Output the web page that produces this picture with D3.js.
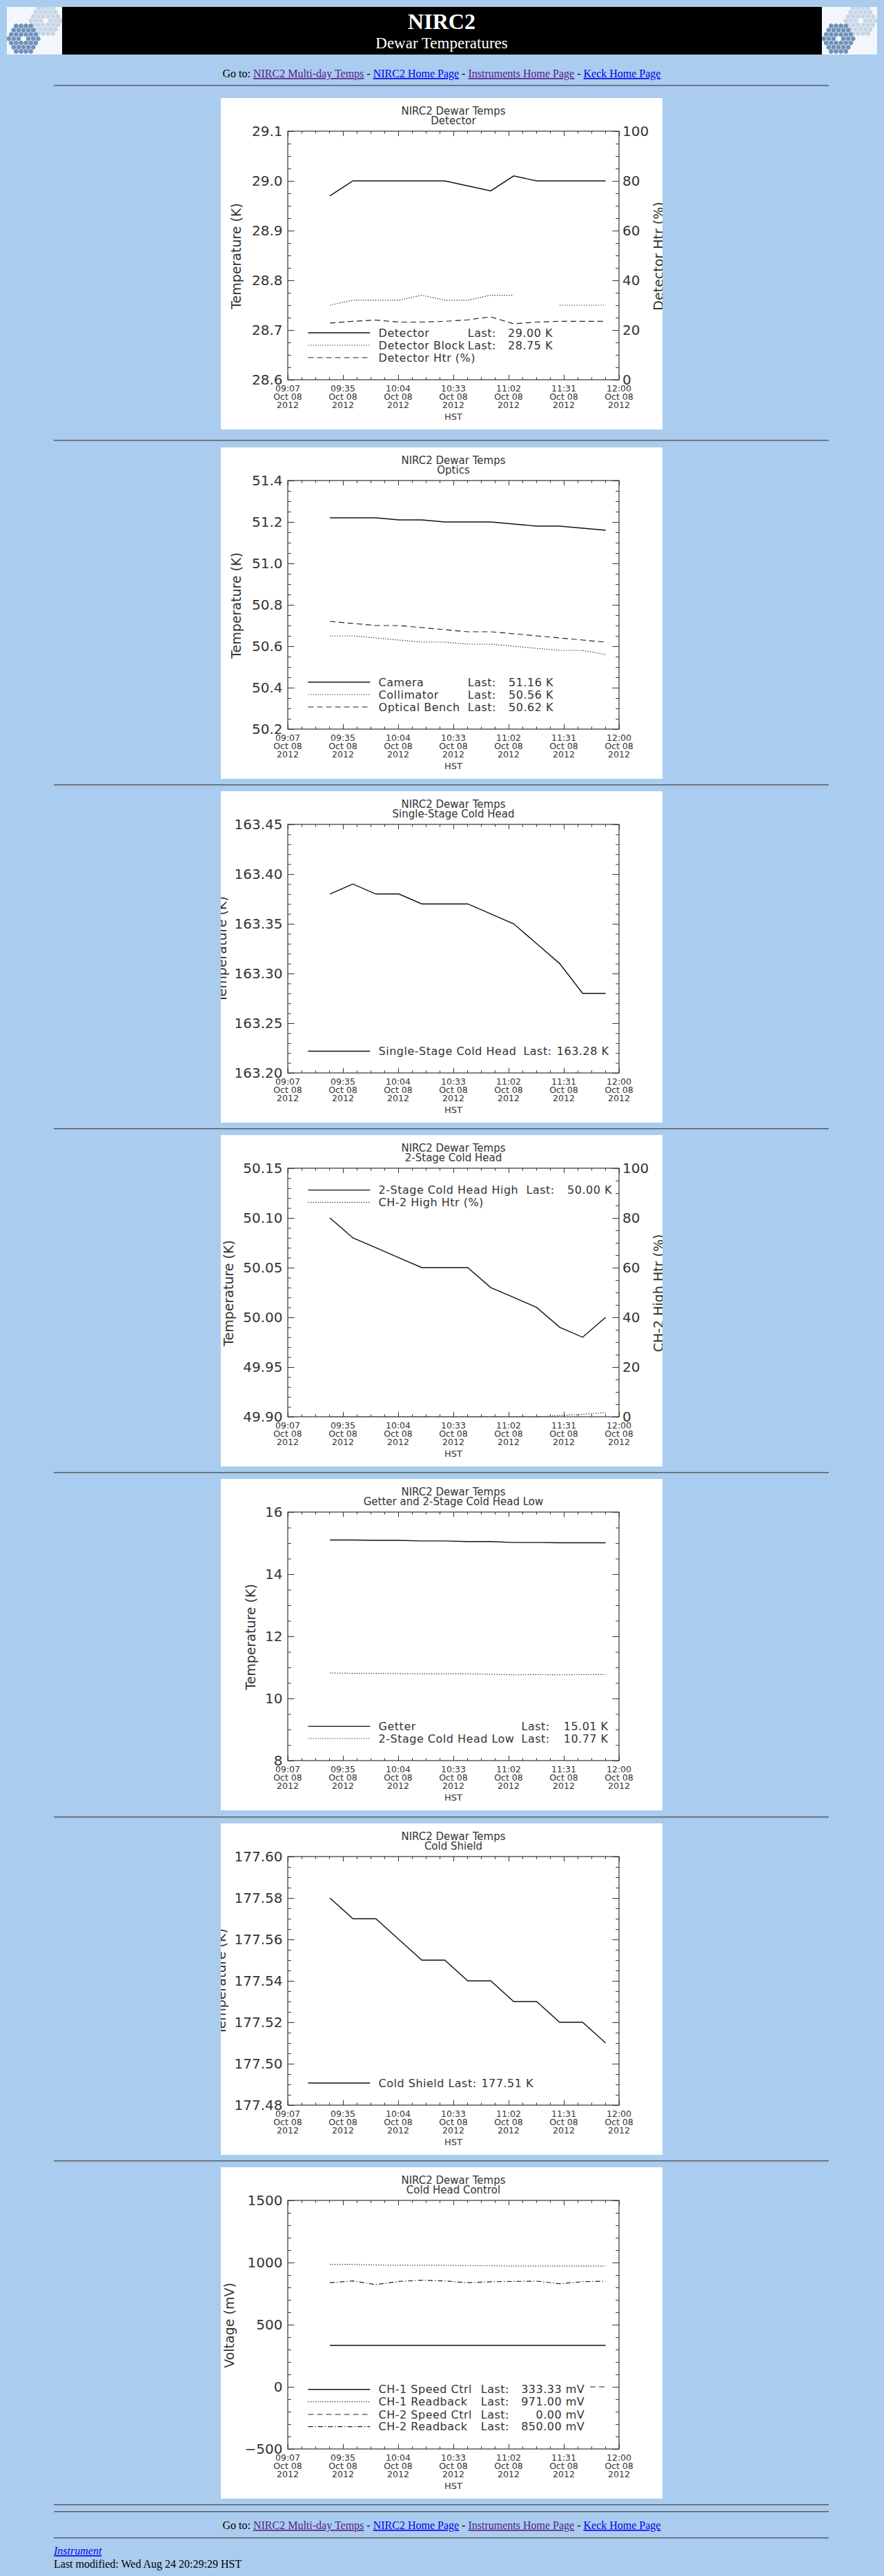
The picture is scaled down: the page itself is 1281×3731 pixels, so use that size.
<!DOCTYPE html>
<html>
<head>
<meta charset="utf-8">
<title>NIRC2 Dewar Temperatures</title>
<script src="https://cdn.jsdelivr.net/npm/d3@7"></script>
<style>
  body { margin: 0; background: #aaccee; }
  svg { display: block; }
</style>
</head>
<body>
<script>
// sample times (HST, Oct 08 2012)
var sampleTimes = ["09:29","09:41","09:53","10:05","10:17","10:29","10:41","10:53","11:05","11:17","11:29","11:41","11:53"];
var xTickLabels = ["09:07","09:35","10:04","10:33","11:02","11:31","12:00"];
var xTickDay = "Oct 08";
var xTickYear = "2012";

// Detector
var detector      = [28.97, 29.00, 29.00, 29.00, 29.00, 29.00, 28.99, 28.98, 29.01, 29.00, 29.00, 29.00, 29.00];
var detectorBlock = [28.75, 28.76, 28.76, 28.76, 28.77, 28.76, 28.76, 28.77, 28.77, null, 28.75, 28.75, 28.75];
var detectorHtr   = [22.8, 23.5, 24.0, 23.2, 23.2, 23.5, 24.1, 25.3, 22.5, 23.2, 23.5, 23.5, 23.5];
// Optics
var camera     = [51.22, 51.22, 51.22, 51.21, 51.21, 51.20, 51.20, 51.20, 51.19, 51.18, 51.18, 51.17, 51.16];
var collimator = [50.65, 50.65, 50.64, 50.63, 50.62, 50.62, 50.61, 50.61, 50.60, 50.59, 50.58, 50.58, 50.56];
var bench      = [50.72, 50.71, 50.70, 50.70, 50.69, 50.68, 50.67, 50.67, 50.66, 50.65, 50.64, 50.63, 50.62];
// Single-stage cold head
var coldHead1 = [163.38, 163.39, 163.38, 163.38, 163.37, 163.37, 163.37, 163.36, 163.35, 163.33, 163.31, 163.28, 163.28];
// 2-stage cold head
var coldHead2High = [50.10, 50.08, 50.07, 50.06, 50.05, 50.05, 50.05, 50.03, 50.02, 50.01, 49.99, 49.98, 50.00];
var ch2HighHtr    = [0, 0, 0, 0, 0, 0, 0, 0, 0, 0, 0.5, 1.0, 1.7];
// Getter and 2-stage low
var getter       = [15.10, 15.10, 15.09, 15.09, 15.07, 15.07, 15.05, 15.05, 15.02, 15.02, 15.01, 15.01, 15.01];
var coldHead2Low = [10.82, 10.81, 10.81, 10.80, 10.79, 10.79, 10.79, 10.78, 10.76, 10.77, 10.76, 10.77, 10.77];
// Cold shield
var coldShield = [177.58, 177.57, 177.57, 177.56, 177.55, 177.55, 177.54, 177.54, 177.53, 177.53, 177.52, 177.52, 177.51];
// Cold head control (mV)
var ch1Speed    = [333.33, 333.33, 333.33, 333.33, 333.33, 333.33, 333.33, 333.33, 333.33, 333.33, 333.33, 333.33, 333.33];
var ch1Readback = [985, 985, 980, 978, 978, 978, 975, 975, 971, 971, 971, 971, 971];
var ch2Speed    = [0, 0, 0, 0, 0, 0, 0, 0, 0, 0, 0, 0, 0];
var ch2Readback = [838, 852, 822, 848, 858, 852, 838, 845, 848, 850, 830, 846, 850];

// axis tick values
var detTicks    = [28.6, 28.7, 28.8, 28.9, 29.0, 29.1];
var opticsTicks = [50.2, 50.4, 50.6, 50.8, 51.0, 51.2, 51.4];
var ch1Ticks    = [163.20, 163.25, 163.30, 163.35, 163.40, 163.45];
var ch2Ticks    = [49.90, 49.95, 50.00, 50.05, 50.10, 50.15];
var getterTicks = [8, 10, 12, 14, 16];
var shieldTicks = [177.48, 177.50, 177.52, 177.54, 177.56, 177.58, 177.60];
var voltTicks   = [-500, 0, 500, 1000, 1500];
var htrTicks    = [0, 20, 40, 60, 80, 100];

var navLinks   = ["NIRC2 Multi-day Temps", "NIRC2 Home Page", "Instruments Home Page", "Keck Home Page"];
var navVisited = [true, false, true, false];

var parseT = function (s) {
  var p = s.split(":");
  return new Date(2012, 9, 8, +p[0], +p[1]);
};
var times = sampleTimes.map(parseT);
var xStart = parseT(xTickLabels[0]), xEnd = parseT(xTickLabels[xTickLabels.length - 1]);

var dashes = { solid: null, dot: "1.3,2.2", dash: "8,5", dashdot: "7,3,1.3,3" };

var panels = [
  { top: 142, sub: "Detector", ylab: "Temperature (K)", ylabX: 22.4, ticks: detTicks, minor: 4, fmt: ".1f",
    right: { ticks: htrTicks, minor: 4, label: "Detector Htr (%)" },
    series: [
      { v: detector, s: "solid", name: "Detector", last: "29.00 K" },
      { v: detectorBlock, s: "dot", name: "Detector Block", last: "28.75 K" },
      { v: detectorHtr, s: "dash", onRight: true, name: "Detector Htr (%)", last: null }],
    legend: { rows: [340, 358, 376], lastEnd: 399, valEnd: 481 } },
  { top: 648, sub: "Optics", ylab: "Temperature (K)", ylabX: 22.4, ticks: opticsTicks, minor: 4, fmt: ".1f",
    series: [
      { v: camera, s: "solid", name: "Camera", last: "51.16 K" },
      { v: collimator, s: "dot", name: "Collimator", last: "50.56 K" },
      { v: bench, s: "dash", name: "Optical Bench", last: "50.62 K" }],
    legend: { rows: [340, 358, 376], lastEnd: 399, valEnd: 482 } },
  { top: 1146, sub: "Single-Stage Cold Head", ylab: "Temperature (K)", ylabX: 1, ticks: ch1Ticks, minor: 5, fmt: ".2f",
    series: [
      { v: coldHead1, s: "solid", name: "Single-Stage Cold Head", last: "163.28 K" }],
    legend: { rows: [376.5], lastEnd: 479.6, valEnd: 562.4 } },
  { top: 1644, sub: "2-Stage Cold Head", ylab: "Temperature (K)", ylabX: 11, ticks: ch2Ticks, minor: 5, fmt: ".2f",
    right: { ticks: htrTicks, minor: 4, label: "CH-2 High Htr (%)" },
    series: [
      { v: coldHead2High, s: "solid", name: "2-Stage Cold Head High", last: "50.00 K" },
      { v: ch2HighHtr, s: "dot", onRight: true, name: "CH-2 High Htr (%)", last: null }],
    legend: { rows: [79.6, 97.3], lastEnd: 483.7, valEnd: 567 } },
  { top: 2142, sub: "Getter and 2-Stage Cold Head Low", ylab: "Temperature (K)", ylabX: 43, ticks: getterTicks, minor: 4, fmt: "d",
    series: [
      { v: getter, s: "solid", name: "Getter", last: "15.01 K" },
      { v: coldHead2Low, s: "dot", name: "2-Stage Cold Head Low", last: "10.77 K" }],
    legend: { rows: [358.4, 376], lastEnd: 476.7, valEnd: 561.6 } },
  { top: 2641, sub: "Cold Shield", ylab: "Temperature (K)", ylabX: 0, ticks: shieldTicks, minor: 4, fmt: ".2f",
    series: [
      { v: coldShield, s: "solid", name: "Cold Shield", last: "177.51 K" }],
    legend: { rows: [376], lastEnd: 370.6, valEnd: 453 } },
  { top: 3139, sub: "Cold Head Control", ylab: "Voltage (mV)", ylabX: 12.2, ticks: voltTicks, minor: 5, fmt: "d",
    series: [
      { v: ch1Speed, s: "solid", name: "CH-1 Speed Ctrl", last: "333.33 mV" },
      { v: ch1Readback, s: "dot", name: "CH-1 Readback", last: "971.00 mV" },
      { v: ch2Speed, s: "dash", name: "CH-2 Speed Ctrl", last: "0.00 mV" },
      { v: ch2Readback, s: "dashdot", name: "CH-2 Readback", last: "850.00 mV" }],
    legend: { rows: [321.7, 339.7, 358, 375.7], lastEnd: 418, valEnd: 527.3 } }
];

var W = 1281, H = 3731;
var svg = d3.select("body").append("svg").attr("width", W).attr("height", H);
svg.append("rect").attr("width", W).attr("height", H).attr("fill", "#aaccee");

// keck mirror logo (hexagon segments)
function drawLogo(g) {
  g.append("rect").attr("width", 80).attr("height", 69).attr("fill", "#f3f6fa");
  var s = 4.1;
  var hex = d3.range(6).map(function (i) {
    var a = Math.PI / 3 * i + Math.PI / 6;
    return [Math.cos(a) * s * 0.9, Math.sin(a) * s * 0.9];
  });
  var cells = [];
  for (var q = -3; q <= 3; q++) {
    for (var r = -3; r <= 3; r++) {
      if (Math.abs(q + r) <= 3 && !(q === 0 && r === 0)) cells.push([q, r]);
    }
  }
  [[56, 20, "#c6d5e6"], [24, 46, "#6f92ba"]].forEach(function (m) {
    g.append("g").selectAll("path").data(cells).enter().append("path")
      .attr("d", "M" + hex.join("L") + "Z")
      .attr("transform", function (d) {
        return "translate(" + (m[0] + s * Math.sqrt(3) * (d[0] + d[1] / 2)) + "," + (m[1] + s * 1.5 * d[1]) + ")";
      })
      .attr("fill", m[2]);
  });
}
var clip = svg.append("defs").append("clipPath").attr("id", "logoclip");
clip.append("rect").attr("width", 80).attr("height", 69);
drawLogo(svg.append("g").attr("transform", "translate(10,10)").attr("clip-path", "url(#logoclip)"));
drawLogo(svg.append("g").attr("transform", "translate(1191,10)").attr("clip-path", "url(#logoclip)"));

svg.append("rect").attr("x", 90).attr("y", 10).attr("width", 1101).attr("height", 69).attr("fill", "#000");
svg.append("text").attr("x", 640).attr("y", 42).attr("text-anchor", "middle")
  .attr("fill", "#fff").style("font", "bold 32px 'Liberation Serif'").text("NIRC2");
svg.append("text").attr("x", 640).attr("y", 70).attr("text-anchor", "middle")
  .attr("fill", "#fff").style("font", "23px 'Liberation Serif'").text("Dewar Temperatures");

function navLine(y) {
  var t = svg.append("text").attr("x", 640).attr("y", y).attr("text-anchor", "middle")
    .style("font", "16px 'Liberation Serif'").attr("fill", "#000");
  t.append("tspan").text("Go to: ");
  navLinks.forEach(function (l, i) {
    if (i > 0) t.append("tspan").attr("fill", "#000").text(" - ");
    t.append("tspan").attr("fill", navVisited[i] ? "#551a8b" : "#0000ee")
      .style("text-decoration", "underline").text(l);
  });
}
function hr(y) {
  svg.append("rect").attr("x", 78).attr("y", y - 1).attr("width", 1123).attr("height", 1.2).attr("fill", "#555");
  svg.append("rect").attr("x", 78).attr("y", y + 0.2).attr("width", 1123).attr("height", 1).attr("fill", "#8a9cb0");
}

navLine(112);
hr(124);
[638, 1137, 1635, 2133, 2632, 3130].forEach(hr);

// plot geometry inside each 640x480 image
var PL = 97, PR = 577, PT = 48, PB = 408;
var x = d3.scaleTime().domain([xStart, xEnd]).range([PL, PR]);
var xMajor = d3.range(7).map(function (i) { return new Date(+xStart + i * (xEnd - xStart) / 6); });
var xMinor = d3.range(25).filter(function (i) { return i % 4; })
  .map(function (i) { return new Date(+xStart + i * (xEnd - xStart) / 24); });

function minorVals(ticks, n) {
  var step = (ticks[1] - ticks[0]) / n;
  return d3.range((ticks.length - 1) * n + 1).filter(function (k) { return k % n; })
    .map(function (k) { return ticks[0] + k * step; });
}
function tickSet(g, axisFn, scale, vals, size) {
  g.call(axisFn(scale).tickValues(vals).tickSize(size).tickFormat(""));
  g.select(".domain").remove();
  g.selectAll("line").attr("stroke", "#333").attr("stroke-width", 1);
}

var axisFont = "'DejaVu Sans', sans-serif";
var ink = "#333";

function styleLine(sel, s) {
  return sel.attr("fill", "none")
    .attr("stroke", s === "solid" ? "#111" : "#222")
    .attr("stroke-width", s === "solid" ? 1.4 : 1.2)
    .attr("stroke-dasharray", dashes[s]);
}

panels.forEach(function (p) {
  var img = svg.append("svg").attr("x", 320).attr("y", p.top).attr("width", 640).attr("height", 480);
  img.append("rect").attr("width", 640).attr("height", 480).attr("fill", "#fff");

  var y = d3.scaleLinear().domain(d3.extent(p.ticks)).range([PB, PT]);
  var yr = p.right ? d3.scaleLinear().domain(d3.extent(p.right.ticks)).range([PB, PT]) : null;

  // titles
  var title = img.append("text").attr("x", 337).attr("text-anchor", "middle")
    .style("font", "15px " + axisFont).attr("fill", ink);
  title.append("tspan").attr("x", 337).attr("y", 23.5).text("NIRC2 Dewar Temps");
  title.append("tspan").attr("x", 337).attr("y", 37.5).text(p.sub);

  // data lines
  var gd = img.append("g");
  p.series.forEach(function (s) {
    var sc = s.onRight ? yr : y;
    var line = d3.line()
      .defined(function (d) { return d != null; })
      .x(function (d, i) { return x(times[i]); })
      .y(function (d) { return sc(d); });
    styleLine(gd.append("path").datum(s.v).attr("d", line), s.s);
  });

  // legend
  var lg = img.append("g");
  var txt = lg.append("g").style("font", "16px " + axisFont).style("letter-spacing", "0.5px").attr("fill", ink);
  p.series.forEach(function (s, i) {
    var ry = p.legend.rows[i];
    styleLine(lg.append("line").attr("x1", 126.5).attr("x2", 216.3).attr("y1", ry).attr("y2", ry), s.s);
    txt.append("text").attr("x", 228.6).attr("y", ry).attr("dy", "0.36em").text(s.name);
    if (s.last) {
      txt.append("text").attr("x", p.legend.lastEnd).attr("y", ry).attr("dy", "0.36em")
        .attr("text-anchor", "end").text("Last:");
      txt.append("text").attr("x", p.legend.valEnd).attr("y", ry).attr("dy", "0.36em")
        .attr("text-anchor", "end").text(s.last);
    }
  });
  var bb = lg.node().getBBox();
  lg.insert("rect", ":first-child").attr("x", 120).attr("y", bb.y - 3)
    .attr("width", bb.x + bb.width + 8 - 120).attr("height", bb.height + 6).attr("fill", "#fff");

  // frame
  img.append("rect").attr("x", PL).attr("y", PT).attr("width", PR - PL).attr("height", PB - PT)
    .attr("fill", "none").attr("stroke", ink).attr("stroke-width", 1.2);

  // ticks on all four sides
  var yTicksR = yr ? [yr, p.right.ticks, minorVals(p.right.ticks, p.right.minor)]
                   : [y, p.ticks, minorVals(p.ticks, p.minor)];
  tickSet(img.append("g").attr("transform", "translate(" + PL + ",0)"), d3.axisLeft, y, p.ticks, -9.6);
  tickSet(img.append("g").attr("transform", "translate(" + PL + ",0)"), d3.axisLeft, y, minorVals(p.ticks, p.minor), -4.8);
  tickSet(img.append("g").attr("transform", "translate(" + PR + ",0)"), d3.axisRight, yTicksR[0], yTicksR[1], -9.6);
  tickSet(img.append("g").attr("transform", "translate(" + PR + ",0)"), d3.axisRight, yTicksR[0], yTicksR[2], -4.8);
  tickSet(img.append("g").attr("transform", "translate(0," + PB + ")"), d3.axisBottom, x, xMajor, -7.2);
  tickSet(img.append("g").attr("transform", "translate(0," + PB + ")"), d3.axisBottom, x, xMinor, -3.6);
  tickSet(img.append("g").attr("transform", "translate(0," + PT + ")"), d3.axisTop, x, xMajor, -7.2);
  tickSet(img.append("g").attr("transform", "translate(0," + PT + ")"), d3.axisTop, x, xMinor, -3.6);

  // y labels
  var f = d3.format(p.fmt);
  img.append("g").selectAll("text").data(p.ticks).enter().append("text")
    .attr("x", 89.5).attr("y", function (d) { return y(d); }).attr("dy", "0.36em")
    .attr("text-anchor", "end").style("font", "20px " + axisFont).attr("fill", ink)
    .text(function (d) { return f(d).replace("-", "\u2212"); });
  img.append("text").attr("transform", "translate(" + p.ylabX + ",229) rotate(-90)")
    .attr("text-anchor", "middle").attr("dy", "0.36em")
    .style("font", "19px " + axisFont).attr("fill", ink).text(p.ylab);

  if (yr) {
    img.append("g").selectAll("text").data(p.right.ticks).enter().append("text")
      .attr("x", 582).attr("y", function (d) { return yr(d); }).attr("dy", "0.36em")
      .style("font", "20px " + axisFont).attr("fill", ink).text(function (d) { return d; });
    img.append("text").attr("transform", "translate(634,229) rotate(-90)")
      .attr("text-anchor", "middle").attr("dy", "0.36em")
      .style("font", "19px " + axisFont).attr("fill", ink).text(p.right.label);
  }

  // x labels
  var xl = img.append("g").style("font", "12.5px " + axisFont).attr("fill", ink).attr("text-anchor", "middle");
  xMajor.forEach(function (d, i) {
    var t = xl.append("text").attr("y", 425);
    t.append("tspan").attr("x", x(d)).text(xTickLabels[i]);
    t.append("tspan").attr("x", x(d)).attr("dy", 12).text(xTickDay);
    t.append("tspan").attr("x", x(d)).attr("dy", 11.5).text(xTickYear);
  });
  img.append("text").attr("x", 337).attr("y", 466).attr("text-anchor", "middle")
    .style("font", "13px " + axisFont).attr("fill", ink).text("HST");
});

// footer
hr(3628);
hr(3638);
navLine(3663);
hr(3676);
svg.append("text").attr("x", 78).attr("y", 3700).attr("fill", "#0000ee")
  .style("font", "italic 16px 'Liberation Serif'").style("text-decoration", "underline").text("Instrument");
svg.append("text").attr("x", 78).attr("y", 3719).attr("fill", "#000")
  .style("font", "16px 'Liberation Serif'").text("Last modified: Wed Aug 24 20:29:29 HST");
</script>
</body>
</html>
